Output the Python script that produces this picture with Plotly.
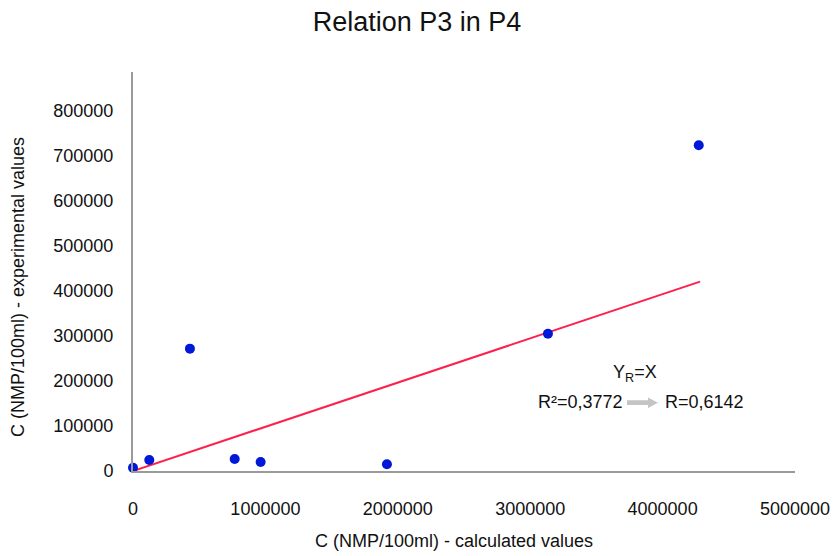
import plotly.graph_objects as go

# Data
calc_values = [0, 123000, 430000, 768000, 964000, 1918000, 3134000, 4273000]
exp_values = [7400, 24500, 272000, 26800, 20000, 15000, 305000, 724000]

line_x = [0, 4283000]
line_y = [0, 421000]

x_ticks = [0, 1000000, 2000000, 3000000, 4000000, 5000000]
y_ticks = [0, 100000, 200000, 300000, 400000, 500000, 600000, 700000, 800000]

title_text = "Relation P3 in P4"
x_title = "C (NMP/100ml) - calculated values"
y_title = "C (NMP/100ml) - experimental values"

FONT = "Liberation Sans, Arial, Helvetica, sans-serif"
W, H = 833, 556
L, R, T, B = 133, 795, 72, 471  # plot area in pixels


def px(x):
    return (x - L) / (R - L)


def py(y):
    return (B - y) / (B - T)


fig = go.Figure()
fig.add_trace(go.Scatter(x=line_x, y=line_y, mode="lines",
                         line=dict(color="#ff1f4f", width=2),
                         hoverinfo="skip", showlegend=False, cliponaxis=False))
fig.add_trace(go.Scatter(x=calc_values, y=exp_values, mode="markers",
                         marker=dict(color="#0018d8", size=10, line=dict(width=0)),
                         showlegend=False, cliponaxis=False))

fig.update_layout(
    width=W, height=H,
    margin=dict(l=L, r=W - R, t=T, b=H - B),
    paper_bgcolor="white", plot_bgcolor="white",
    font=dict(family=FONT, size=18, color="#111111"),
    title=dict(text=title_text, x=417 / W, xanchor="center", y=1 - 22 / H,
               yanchor="middle", font=dict(size=27, color="#111111")),
    showlegend=False,
)

fig.update_xaxes(range=[0, 5000000], tickvals=x_ticks,
                 ticktext=[str(v) for v in x_ticks],
                 showgrid=False, zeroline=False, automargin=False,
                 showline=True, linecolor="#9a9a9a", linewidth=2,
                 ticks="", ticklabelstandoff=20,
                 tickfont=dict(size=18, family=FONT, color="#111111"))
fig.update_yaxes(range=[0, 887000], tickvals=y_ticks,
                 ticktext=[str(v) for v in y_ticks],
                 showgrid=False, zeroline=False, automargin=False,
                 showline=True, linecolor="#9a9a9a", linewidth=2,
                 ticks="", ticklabelstandoff=14,
                 tickfont=dict(size=18, family=FONT, color="#111111"))

# Axis titles placed as annotations
fig.add_annotation(x=px(454), y=py(541), xref="paper", yref="paper",
                   text=x_title, showarrow=False,
                   font=dict(size=18, family=FONT, color="#111111"),
                   xanchor="center", yanchor="middle")
fig.add_annotation(x=px(18), y=py(287), xref="paper", yref="paper",
                   text=y_title, showarrow=False, textangle=-90,
                   font=dict(size=18, family=FONT, color="#111111"),
                   xanchor="center", yanchor="middle")

# Annotation text
fig.add_annotation(x=px(635), y=py(373), xref="paper", yref="paper",
                   text="Y<sub>R</sub>=X", showarrow=False,
                   font=dict(size=18, family=FONT, color="#111111"),
                   xanchor="center", yanchor="middle")
fig.add_annotation(x=px(625), y=py(402), xref="paper", yref="paper",
                   text="R²=0,3772", showarrow=False,
                   font=dict(size=18, family=FONT, color="#111111"),
                   xanchor="right", yanchor="middle")
fig.add_annotation(x=px(663), y=py(402), xref="paper", yref="paper",
                   text="R=0,6142", showarrow=False,
                   font=dict(size=18, family=FONT, color="#111111"),
                   xanchor="left", yanchor="middle")

# Grey arrow between R² and R
arrow_path = (f"M {px(627)} {py(400.3)} L {px(648)} {py(400.3)} L {px(648)} {py(397.5)} "
              f"L {px(658)} {py(402.7)} L {px(648)} {py(407.9)} L {px(648)} {py(405.1)} "
              f"L {px(627)} {py(405.1)} Z")
fig.add_shape(type="path", path=arrow_path, xref="paper", yref="paper",
              fillcolor="#c4c4c4", line=dict(width=0))

fig.write_html("out.html", config={"displayModeBar": False},
               post_script="document.body.style.margin='0px';")
